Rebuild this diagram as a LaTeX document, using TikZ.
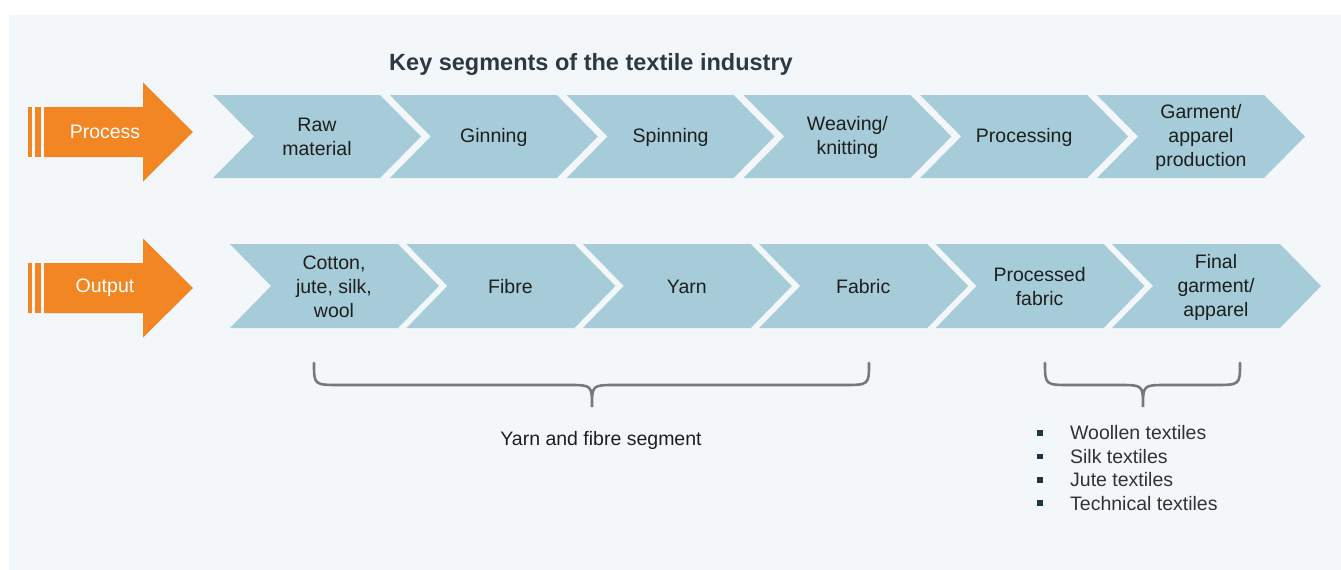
\documentclass[tikz,border=0pt]{standalone}
\usepackage{fontspec}
\setmainfont{Liberation Sans}
\usetikzlibrary{positioning}

\definecolor{panelbg}{RGB}{244,247,249}
\definecolor{orangey}{RGB}{241,134,35}
\definecolor{chevblue}{RGB}{165,204,216}
\definecolor{txtdark}{RGB}{30,30,30}
\definecolor{titleblue}{RGB}{45,56,68}
\definecolor{bracegrey}{RGB}{120,120,120}
\definecolor{bulletc}{RGB}{30,55,70}

\begin{document}
\begin{tikzpicture}[x=1pt, y=-1pt,
    every node/.style={font=\fontsize{19.5}{24}\selectfont, text=txtdark},
    lbl/.style={align=center, inner sep=0pt},
    brace/.style={draw=bracegrey, line width=2.6pt, line cap=round},
    bullet/.style={fill=bulletc, minimum size=5.5pt, inner sep=0pt}
]
    \useasboundingbox (0,0) rectangle (1341,570);
    \fill[panelbg] (9,15) rectangle (1341,570);

    \node[font=\fontsize{23.5}{28}\selectfont\bfseries, text=titleblue] (title) at (591,64) {Key segments of the textile industry};

    % orange arrows on the left
    \foreach \y/\name/\txt in {132/process/Process, 288/output/Output} {
        \fill[orangey] (28,\y-25) rectangle (32,\y+25);
        \fill[orangey] (35,\y-25) rectangle (41,\y+25);
        \fill[orangey] (44,\y-25) -- (143,\y-25) -- (143,\y-49.5) -- (193,\y)
            -- (143,\y+49.5) -- (143,\y+25) -- (44,\y+25) -- cycle;
        \node[text=white, inner sep=0pt] (\name) at (105,\y) {\txt};
    }

    % process row
    \foreach \i/\txt in {0/{Raw\\material}, 1/Ginning, 2/Spinning, 3/{Weaving/\\knitting}, 4/Processing, 5/{Garment/\\apparel\\production}} {
        \pgfmathsetmacro\xa{213+176.8*\i}
        \fill[chevblue] (\xa,95) -- ++(167,0) -- ++(41,41.5) -- ++(-41,41.5)
            -- ++(-167,0) -- ++(41,-41.5) -- cycle;
        \node[lbl] (p\i) at (\xa+104,137) {\txt};
    }

    % output row
    \foreach \i/\txt in {0/{Cotton,\\jute, silk,\\wool}, 1/Fibre, 2/Yarn, 3/Fabric, 4/{Processed\\fabric}, 5/{Final\\garment/\\apparel}} {
        \pgfmathsetmacro\xa{230+176.4*\i}
        \fill[chevblue] (\xa,244) -- ++(168,0) -- ++(41,42) -- ++(-41,42)
            -- ++(-168,0) -- ++(41,-42) -- cycle;
        \node[lbl] (o\i) at (\xa+104,287) {\txt};
    }

    % braces
    \coordinate (b1l) at (314,363);
    \coordinate (b1r) at (869,363);
    \coordinate (b1t) at (592,407);
    \draw[brace] (b1l) .. controls (314,385) .. (340,385) -- (568,385)
        .. controls (592,385) .. (b1t) .. controls (592,385) .. (616,385)
        -- (843,385) .. controls (869,385) .. (b1r);
    \coordinate (b2l) at (1045,363);
    \coordinate (b2r) at (1240,363);
    \coordinate (b2t) at (1143,407);
    \draw[brace] (b2l) .. controls (1045,385) .. (1071,385) -- (1119,385)
        .. controls (1143,385) .. (b2t) .. controls (1143,385) .. (1167,385)
        -- (1214,385) .. controls (1240,385) .. (b2r);

    \node (yarnseg) at (601,440) {Yarn and fibre segment};

    \foreach \j/\txt in {0/Woollen textiles, 1/Silk textiles, 2/Jute textiles, 3/Technical textiles} {
        \node[bullet] (sq\j) at (1040,433+23.4*\j) {};
        \node[right=27pt of sq\j, inner sep=0pt, text={rgb,255:red,50;green,50;blue,50}] (seg\j) {\txt};
    }
\end{tikzpicture}
\end{document}
